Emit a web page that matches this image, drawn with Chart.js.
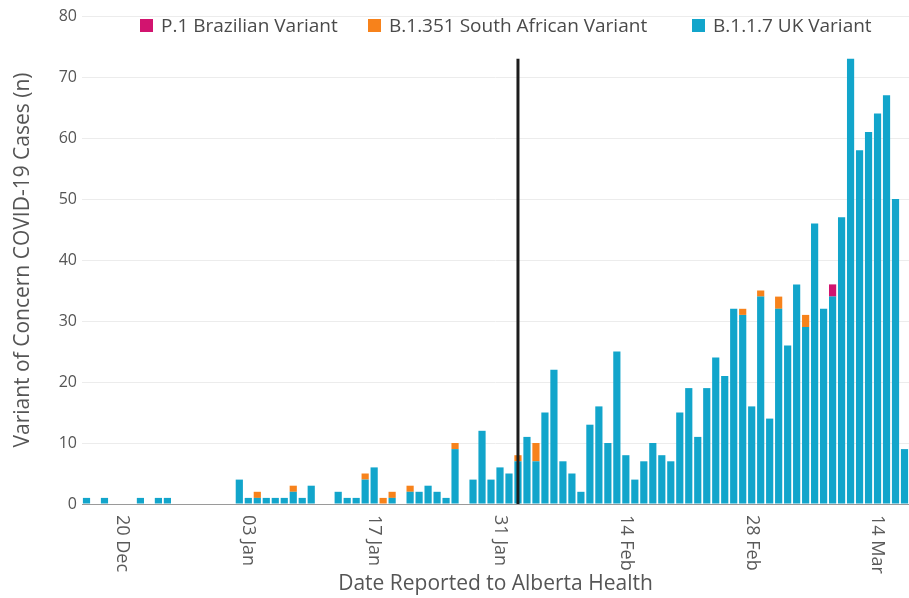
<!DOCTYPE html>
<html>
<head>
<meta charset="utf-8">
<script src="https://cdn.jsdelivr.net/npm/chart.js@4.4.1/dist/chart.umd.min.js"></script>
<style>
  html, body { margin: 0; padding: 0; background: #fff; }
  #wrap { position: relative; width: 909px; height: 598px; }
  #legend { position: absolute; top: 0; left: 0; width: 909px; height: 40px; pointer-events: none;
            font-family: "Open Sans", sans-serif; font-size: 19px; color: #4a4a4a; }
  .item { position: absolute; top: 12px; height: 26px; display: flex; align-items: center; white-space: nowrap; }
  .box { width: 13px; height: 13px; margin-right: 8px; }
</style>
</head>
<body>
<div id="wrap">
  <canvas id="c"></canvas>
  <div id="legend"></div>
</div>
<script>
const categories = [
  '16 Dec','17 Dec','18 Dec','19 Dec','20 Dec','21 Dec','22 Dec','23 Dec','24 Dec','25 Dec','26 Dec','27 Dec','28 Dec','29 Dec','30 Dec','31 Dec',
  '01 Jan','02 Jan','03 Jan','04 Jan','05 Jan','06 Jan','07 Jan','08 Jan','09 Jan','10 Jan','11 Jan','12 Jan','13 Jan','14 Jan','15 Jan','16 Jan',
  '17 Jan','18 Jan','19 Jan','20 Jan','21 Jan','22 Jan','23 Jan','24 Jan','25 Jan','26 Jan','27 Jan','28 Jan','29 Jan','30 Jan','31 Jan',
  '01 Feb','02 Feb','03 Feb','04 Feb','05 Feb','06 Feb','07 Feb','08 Feb','09 Feb','10 Feb','11 Feb','12 Feb','13 Feb','14 Feb',
  '15 Feb','16 Feb','17 Feb','18 Feb','19 Feb','20 Feb','21 Feb','22 Feb','23 Feb','24 Feb','25 Feb','26 Feb','27 Feb','28 Feb',
  '01 Mar','02 Mar','03 Mar','04 Mar','05 Mar','06 Mar','07 Mar','08 Mar','09 Mar','10 Mar','11 Mar','12 Mar','13 Mar','14 Mar',
  '15 Mar','16 Mar','17 Mar'
];

// B.1.1.7 UK Variant
const ukValues = [
  1,0,1,0,0,0,1,0,1,1,0,0,0,0,0,0,
  0,4,1,1,1,1,1,2,1,3,0,0,2,1,1,4,
  6,0,1,0,2,2,3,2,1,9,0,4,12,4,6,
  5,7,11,7,15,22,7,5,2,13,16,10,25,8,
  4,7,10,8,7,15,19,11,19,24,21,32,31,16,
  34,14,32,26,36,29,46,32,34,47,73,58,61,64,
  67,50,9
];

// B.1.351 South African Variant
const saValues = [
  0,0,0,0,0,0,0,0,0,0,0,0,0,0,0,0,
  0,0,0,1,0,0,0,1,0,0,0,0,0,0,0,1,
  0,1,1,0,1,0,0,0,0,1,0,0,0,0,0,
  0,1,0,3,0,0,0,0,0,0,0,0,0,0,
  0,0,0,0,0,0,0,0,0,0,0,0,1,0,
  1,0,2,0,0,2,0,0,0,0,0,0,0,0,
  0,0,0
];

// P.1 Brazilian Variant
const brValues = [
  0,0,0,0,0,0,0,0,0,0,0,0,0,0,0,0,
  0,0,0,0,0,0,0,0,0,0,0,0,0,0,0,0,
  0,0,0,0,0,0,0,0,0,0,0,0,0,0,0,
  0,0,0,0,0,0,0,0,0,0,0,0,0,0,
  0,0,0,0,0,0,0,0,0,0,0,0,0,0,
  0,0,0,0,0,0,0,0,2,0,0,0,0,0,
  0,0,0
];

const xTickLabels = ['20 Dec','03 Jan','17 Jan','31 Jan','14 Feb','28 Feb','14 Mar'];
const yTicks = [0,10,20,30,40,50,60,70,80];

const markerDate = '02 Feb';
const markerRange = [0, 73];

const seriesNames = ['P.1 Brazilian Variant','B.1.351 South African Variant','B.1.1.7 UK Variant'];
const seriesColors = ['#d2146f','#f7821b','#12a5cb'];

Chart.defaults.font.family = '"Open Sans", sans-serif';
Chart.defaults.color = '#555';

const xLabelPlugin = {
  id: 'xlabels',
  afterDraw(chart) {
    const ctx = chart.ctx;
    const x = chart.scales.x;
    ctx.save();
    ctx.font = '18px "Open Sans", sans-serif';
    ctx.fillStyle = '#5a5a5a';
    xTickLabels.forEach(lbl => {
      const px = x.getPixelForValue(categories.indexOf(lbl));
      ctx.save();
      ctx.translate(px, x.top + 11);
      ctx.rotate(Math.PI / 2);
      ctx.textAlign = 'left';
      ctx.textBaseline = 'middle';
      ctx.fillText(lbl, 0, 0);
      ctx.restore();
    });
    ctx.restore();
  }
};

const barCommon = { barPercentage: 0.8, categoryPercentage: 1.0, borderWidth: 0, order: 2, stack: 'v' };

new Chart(document.getElementById('c'), {
  data: {
    labels: categories,
    datasets: [
      { type: 'bar', label: seriesNames[2], data: ukValues, backgroundColor: seriesColors[2], ...barCommon },
      { type: 'bar', label: seriesNames[1], data: saValues, backgroundColor: seriesColors[1], ...barCommon },
      { type: 'bar', label: seriesNames[0], data: brValues, backgroundColor: seriesColors[0], ...barCommon },
      { type: 'line', label: 'marker', stack: 'line', order: 0,
        data: markerRange.map(v => ({ x: markerDate, y: v })),
        borderColor: '#1c1c1c', borderWidth: 3, pointRadius: 0, fill: false }
    ]
  },
  options: {
    responsive: true,
    maintainAspectRatio: false,
    animation: false,
    layout: { padding: { left: 10, top: 16, right: 0, bottom: 0 } },
    plugins: {
      legend: { display: false },
      tooltip: { enabled: false }
    },
    scales: {
      x: {
        stacked: true,
        offset: true,
        grid: { display: false },
        border: { display: true, color: '#9a9a9a', width: 1 },
        ticks: { display: false },
        title: { display: true, text: 'Date Reported to Alberta Health', font: { size: 21 }, color: '#555', padding: { top: 2, bottom: 1 } },
        afterFit(scale) { scale.height = 94; }
      },
      y: {
        stacked: true,
        min: 0, max: 80,
        afterBuildTicks(scale) { scale.ticks = yTicks.map(v => ({ value: v })); },
        grid: { color: '#ececec', drawTicks: false },
        border: { display: false },
        ticks: { font: { size: 16 }, color: '#555', padding: 5 },
        title: { display: true, text: 'Variant of Concern COVID-19 Cases (n)', font: { size: 21 }, color: '#555', padding: { top: 0, bottom: 2 } },
        afterFit(scale) { scale.width = 72; }
      }
    }
  },
  plugins: [xLabelPlugin]
});

// HTML legend
const legendEl = document.getElementById('legend');
const legendLeft = [140, 368, 692];
seriesNames.forEach((name, i) => {
  const it = document.createElement('div');
  it.className = 'item';
  it.style.left = legendLeft[i] + 'px';
  it.innerHTML = '<span class="box" style="background:' + seriesColors[i] + '"></span><span>' + name + '</span>';
  legendEl.appendChild(it);
});
</script>
</body>
</html>
